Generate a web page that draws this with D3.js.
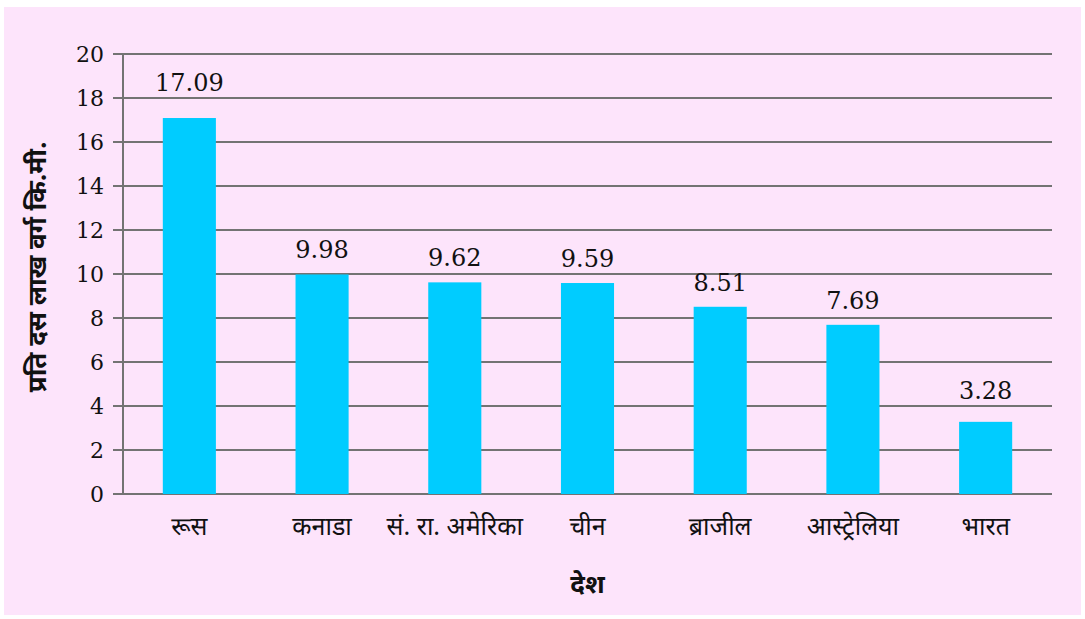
<!DOCTYPE html>
<html lang="hi">
<head>
    <meta charset="UTF-8">
    <title>प्रति दस लाख वर्ग कि.मी.</title>
    <style>
        body {
            margin: 0;
            background-color: #ffffff;
            overflow: hidden;
        }
        svg {
            display: block;
        }
        .tick-label {
            font-family: "DejaVu Serif", serif;
            font-size: 22px;
            fill: #111;
        }
        .value-label {
            font-family: "DejaVu Serif", serif;
            font-size: 24px;
            fill: #111;
        }
        .cat-label {
            font-family: "Noto Sans Devanagari", "Noto Sans", sans-serif;
            font-size: 25px;
            fill: #111;
        }
        .axis-title {
            font-family: "Noto Sans Devanagari", "Noto Sans", sans-serif;
            font-size: 26px;
            font-weight: bold;
            fill: #111;
        }
    </style>
</head>
<body>
    <svg id="chart"></svg>

    <script src="https://d3js.org/d3.v7.min.js"></script>
    <script>
        // chart data
        const countries = ["रूस", "कनाडा", "सं. रा. अमेरिका", "चीन", "ब्राजील", "आस्ट्रेलिया", "भारत"];
        const values = [17.09, 9.98, 9.62, 9.59, 8.51, 7.69, 3.28];
        const yTicks = [0, 2, 4, 6, 8, 10, 12, 14, 16, 18, 20];
        const xTitle = "देश";
        const yTitle = "प्रति दस लाख वर्ग कि.मी.";

        const W = 1085, H = 619;
        const plot = { left: 123, right: 1052, top: 54, bottom: 494 };

        const svg = d3.select("#chart")
            .attr("width", W)
            .attr("height", H);

        // pink panel
        svg.append("rect")
            .attr("x", 4)
            .attr("y", 7)
            .attr("width", 1077)
            .attr("height", 608)
            .attr("fill", "#fde4fb");

        const x = d3.scaleBand()
            .domain(countries)
            .range([plot.left, plot.right])
            .paddingInner(0.6)
            .paddingOuter(0.3);

        const y = d3.scaleLinear()
            .domain([0, 20])
            .range([plot.bottom, plot.top]);

        // horizontal grid lines (with the small tick stub on the left)
        svg.append("g")
            .selectAll("line")
            .data(yTicks)
            .join("line")
            .attr("x1", plot.left - 10)
            .attr("x2", plot.right)
            .attr("y1", d => y(d))
            .attr("y2", d => y(d))
            .attr("stroke", "#737373")
            .attr("stroke-width", 2);

        // y axis line
        svg.append("line")
            .attr("x1", plot.left)
            .attr("x2", plot.left)
            .attr("y1", y(20))
            .attr("y2", y(0))
            .attr("stroke", "#737373")
            .attr("stroke-width", 2);

        // y tick labels
        svg.append("g")
            .selectAll("text")
            .data(yTicks)
            .join("text")
            .attr("class", "tick-label")
            .attr("x", plot.left - 19)
            .attr("y", d => y(d))
            .attr("dy", "0.36em")
            .attr("text-anchor", "end")
            .text(d => d);

        // bars
        svg.append("g")
            .selectAll("rect")
            .data(values)
            .join("rect")
            .attr("x", (d, i) => x(countries[i]))
            .attr("y", d => y(d))
            .attr("width", x.bandwidth())
            .attr("height", d => y(0) - y(d))
            .attr("fill", "#00ccff");

        // value label baseline: sits above the bar, lifted clear of a grid line if it would cross one
        function labelY(d) {
            let by = y(d) - 16;
            const hit = yTicks.map(t => y(t)).find(g => g >= by - 15 && g <= by + 2);
            if (hit !== undefined) by = hit - 7;
            return by;
        }

        // value labels
        svg.append("g")
            .selectAll("text")
            .data(values)
            .join("text")
            .attr("class", "value-label")
            .attr("x", (d, i) => x(countries[i]) + x.bandwidth() / 2)
            .attr("y", d => labelY(d))
            .attr("text-anchor", "middle")
            .text(d => d.toFixed(2));

        // category labels
        svg.append("g")
            .selectAll("text")
            .data(countries)
            .join("text")
            .attr("class", "cat-label")
            .attr("x", d => x(d) + x.bandwidth() / 2)
            .attr("y", 535)
            .attr("text-anchor", "middle")
            .text(d => d);

        // axis titles
        svg.append("text")
            .attr("class", "axis-title")
            .attr("x", (plot.left + plot.right) / 2)
            .attr("y", 593)
            .attr("text-anchor", "middle")
            .text(xTitle);

        svg.append("text")
            .attr("class", "axis-title")
            .attr("transform", `translate(46,${(plot.top + plot.bottom) / 2 - 7}) rotate(-90)`)
            .attr("text-anchor", "middle")
            .text(yTitle);
    </script>
</body>
</html>
